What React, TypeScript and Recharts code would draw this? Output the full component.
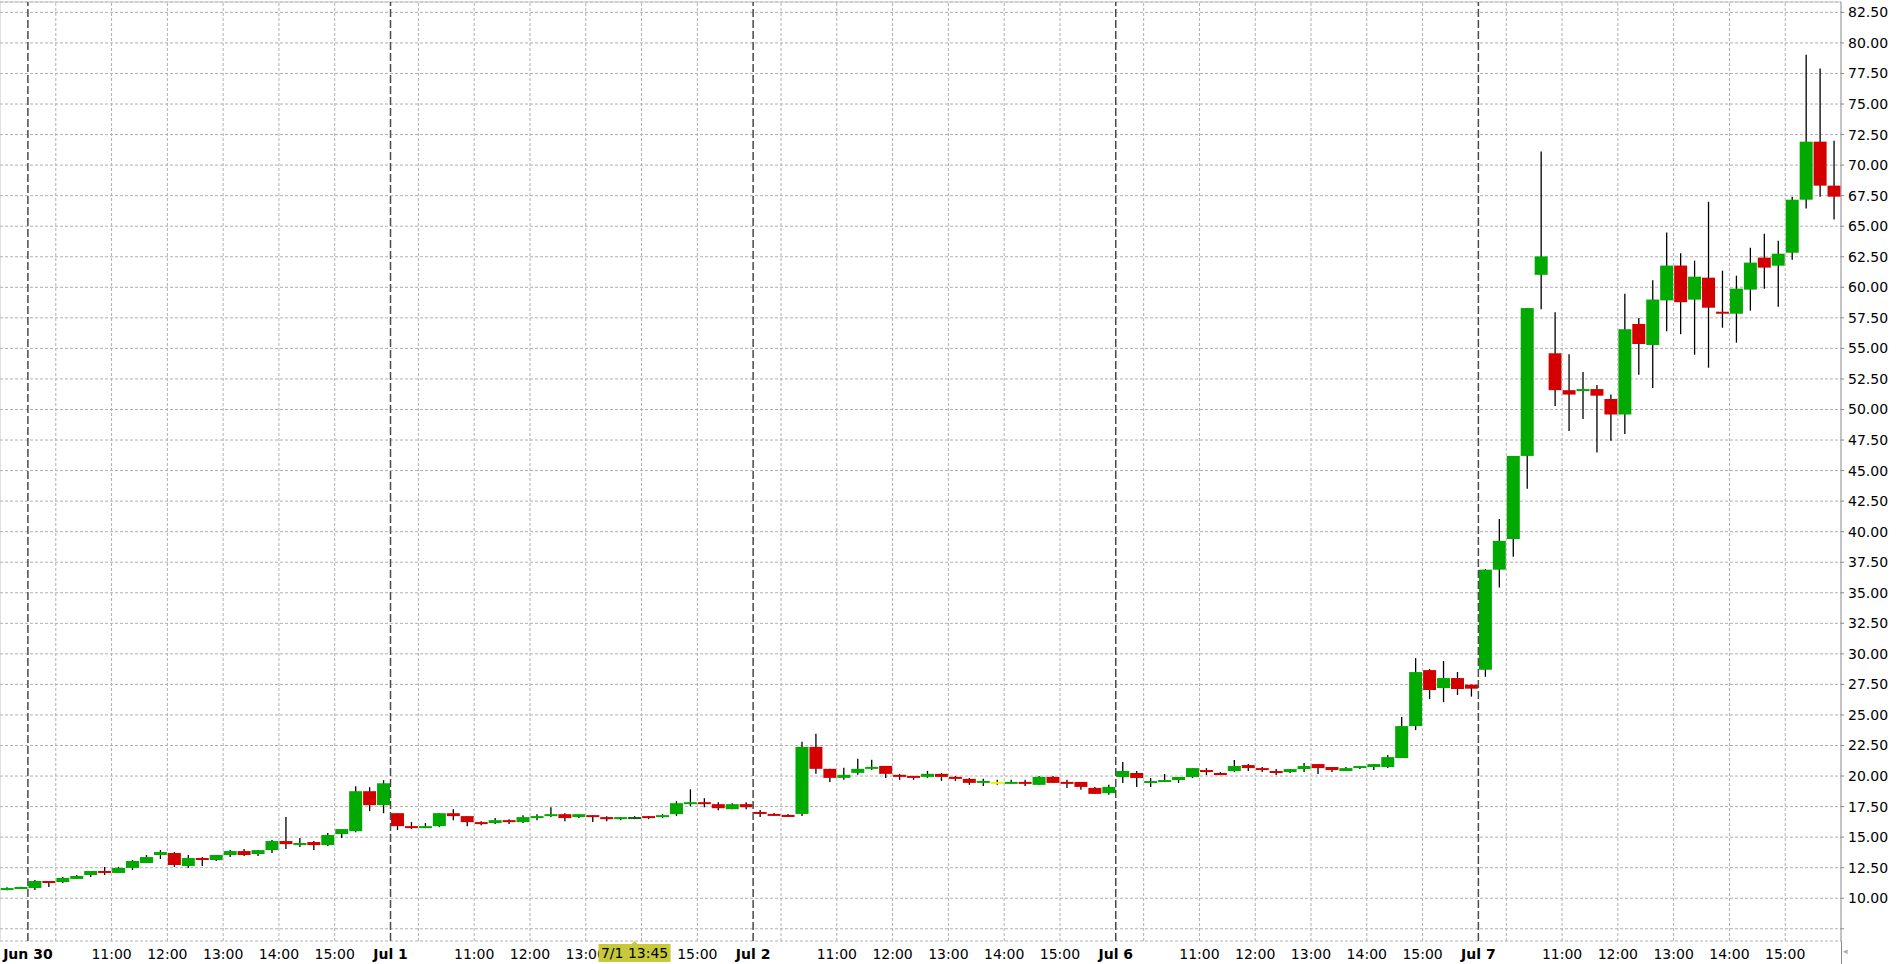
import { ComposedChart, Bar, XAxis, YAxis, CartesianGrid, ReferenceLine } from 'recharts';

// session layout: two late bars of Jun 29, then five full sessions of 15-min bars
const priorDay = 'Jun 29';
const priorTimes = ['15:30', '15:45'];
const tradingDays = ['Jun 30', 'Jul 1', 'Jul 2', 'Jul 6', 'Jul 7'];
const sessionTimes = [
  '09:30', '09:45', '10:00', '10:15', '10:30', '10:45', '11:00', '11:15', '11:30', '11:45',
  '12:00', '12:15', '12:30', '12:45', '13:00', '13:15', '13:30', '13:45', '14:00', '14:15',
  '14:30', '14:45', '15:00', '15:15', '15:30', '15:45',
];

const open = [
  10.68, 10.76,
  10.84, 11.41, 11.33, 11.58, 11.9, 12.23, 12.07, 12.48, 12.88, 13.54, 13.7, 12.64, 13.29, 13.13, 13.54, 13.86, 13.62, 13.94, 14.68, 14.35, 14.6, 14.35, 15.25, 15.49, 18.76, 17.62,
  16.96, 15.9, 15.74, 15.9, 16.96, 16.72, 16.23, 16.15, 16.39, 16.23, 16.56, 16.72, 16.88, 16.64, 16.8, 16.64, 16.47, 16.5, 16.72, 16.64, 16.88, 17.7, 17.86, 17.7, 17.29, 17.7,
  17.06, 16.9, 16.82, 16.9, 22.39, 20.59, 19.85, 20.26, 20.59, 20.83, 20.1, 20.01, 19.93, 20.18, 19.93, 19.77, 19.44, 19.36, 19.36, 19.52, 19.28, 19.93, 19.52, 19.52, 19.03, 18.6,
  19.92, 20.25, 19.43, 19.51, 19.67, 19.92, 20.49, 20.25, 20.41, 20.9, 20.65, 20.41, 20.33, 20.57, 20.98, 20.74, 20.41, 20.65, 20.74, 20.74, 21.47, 24.09, 28.67, 27.2, 28.02, 27.48,
  28.7, 36.89, 39.4, 46.2, 61.02, 54.6, 51.58, 51.5, 51.67, 50.86, 49.59, 57.0, 55.28, 58.93, 61.78, 58.99, 60.79, 58.0, 57.84, 59.81, 62.43, 61.77, 62.83, 67.17, 71.92, 68.32,
];

const high = [
  10.9, 10.95,
  11.5, 11.41, 11.74, 11.9, 12.23, 12.56, 12.56, 13.13, 13.54, 13.94, 13.78, 13.54, 13.37, 13.54, 13.94, 14.03, 13.94, 14.76, 16.64, 14.92, 14.68, 15.33, 15.66, 19.17, 19.09, 19.66,
  16.96, 16.23, 16.15, 16.96, 17.29, 16.72, 16.31, 16.56, 16.47, 16.8, 16.88, 17.45, 16.96, 16.88, 16.8, 16.72, 16.64, 16.72, 16.72, 16.88, 17.94, 18.92, 18.19, 17.86, 17.78, 17.86,
  17.23, 16.98, 16.9, 22.8, 23.46, 20.59, 20.67, 21.41, 21.33, 20.83, 20.18, 20.01, 20.42, 20.26, 20.01, 19.85, 19.77, 19.69, 19.69, 19.69, 20.01, 20.01, 19.69, 19.52, 19.11, 19.28,
  21.15, 20.41, 19.84, 20.16, 19.92, 20.65, 20.65, 20.33, 21.31, 20.98, 20.74, 20.57, 20.57, 21.06, 20.98, 20.74, 20.74, 20.82, 20.98, 21.72, 24.83, 29.65, 28.75, 29.41, 28.51, 27.48,
  36.95, 41.03, 46.2, 58.3, 71.12, 57.96, 54.52, 53.07, 52.0, 51.22, 59.48, 57.48, 60.58, 64.48, 62.78, 62.18, 67.0, 61.36, 60.95, 63.24, 64.39, 63.82, 67.42, 79.04, 77.9, 72.0,
];

const low = [
  10.66, 10.76,
  10.68, 10.92, 11.25, 11.58, 11.74, 11.9, 12.07, 12.31, 12.88, 13.21, 12.56, 12.48, 12.64, 13.05, 13.37, 13.45, 13.45, 13.7, 14.03, 14.19, 13.94, 14.27, 14.92, 15.41, 17.13, 16.96,
  15.58, 15.66, 15.74, 15.82, 16.39, 15.9, 15.98, 16.07, 16.07, 16.15, 16.39, 16.64, 16.31, 16.56, 16.23, 16.31, 16.39, 16.48, 16.47, 16.56, 16.72, 17.53, 17.45, 17.21, 17.29, 17.29,
  16.65, 16.74, 16.65, 16.74, 20.18, 19.52, 19.69, 20.1, 20.5, 19.85, 19.69, 19.69, 19.85, 19.6, 19.6, 19.28, 19.19, 19.28, 19.36, 19.19, 19.28, 19.44, 19.03, 18.87, 18.54, 18.46,
  19.43, 19.1, 19.1, 19.51, 19.43, 19.84, 20.08, 20.08, 20.33, 20.41, 20.33, 20.08, 20.25, 20.33, 20.16, 20.33, 20.41, 20.57, 20.49, 20.65, 21.47, 23.76, 26.3, 26.05, 26.63, 26.5,
  28.12, 35.44, 37.94, 43.51, 58.21, 50.28, 48.23, 49.22, 46.47, 47.44, 48.0, 52.85, 51.76, 56.4, 56.16, 54.48, 53.42, 56.69, 55.47, 58.09, 59.89, 58.41, 62.26, 66.44, 67.42, 65.54,
];

const close = [
  10.82, 10.92,
  11.41, 11.25, 11.66, 11.82, 12.23, 12.07, 12.48, 13.05, 13.37, 13.78, 12.72, 13.29, 13.13, 13.54, 13.86, 13.54, 13.94, 14.68, 14.43, 14.52, 14.35, 15.17, 15.66, 18.76, 17.62, 19.41,
  15.9, 15.74, 15.9, 16.96, 16.72, 16.23, 16.07, 16.39, 16.23, 16.64, 16.72, 16.88, 16.56, 16.88, 16.64, 16.47, 16.64, 16.62, 16.56, 16.8, 17.78, 17.86, 17.7, 17.37, 17.7, 17.45,
  16.9, 16.74, 16.65, 22.39, 20.59, 19.85, 20.1, 20.59, 20.75, 20.18, 19.93, 19.85, 20.18, 19.93, 19.77, 19.44, 19.6, 19.52, 19.52, 19.36, 19.93, 19.44, 19.36, 19.11, 18.54, 19.11,
  20.41, 19.84, 19.59, 19.67, 19.92, 20.65, 20.33, 20.08, 20.82, 20.65, 20.49, 20.25, 20.57, 20.82, 20.65, 20.49, 20.65, 20.82, 20.98, 21.55, 24.09, 28.51, 27.04, 28.02, 27.12, 27.15,
  36.89, 39.25, 46.2, 58.3, 62.53, 51.58, 51.22, 51.67, 51.13, 49.59, 56.57, 55.36, 59.0, 61.78, 58.78, 60.87, 58.33, 57.84, 59.89, 62.02, 61.61, 62.75, 67.17, 71.92, 68.32, 67.42,
];

const yTicks = [
  7.5, 10, 12.5, 15, 17.5, 20, 22.5, 25, 27.5, 30, 32.5, 35, 37.5, 40, 42.5, 45,
  47.5, 50, 52.5, 55, 57.5, 60, 62.5, 65, 67.5, 70, 72.5, 75, 77.5, 80, 82.5,
];

const cursorSlot = 'Jul 1 13:45';
const cursorText = '7/1 13:45';

const UP = '#00aa00';
const DOWN = '#d40000';
const FONT = '"DejaVu Sans", Verdana, sans-serif';
const CURSOR_FILL = '#c8c83c';
// bars drawn in a marker colour instead of up/down
const markedColors: Record<string, string> = {
  'Jul 1 13:45': '#0d5e0d',
  'Jul 2 13:45': '#f2f200',
};

const CHART_W = 1897;
const CHART_H = 964;
const X_AXIS_H = 23;
const Y_AXIS_W = 56;
const AXIS_Y = CHART_H - X_AXIS_H;

const slots = [
  ...priorTimes.map((t) => ({ day: priorDay, time: t })),
  ...tradingDays.flatMap((d) => sessionTimes.map((t) => ({ day: d, time: t }))),
];

const data = slots.map((s, i) => ({
  key: `${s.day} ${s.time}`,
  day: s.day,
  time: s.time,
  pos: i + 0.5,
  open: open[i],
  high: high[i],
  low: low[i],
  close: close[i],
}));

const slotCount = data.length;
const dayLines = data.map((d, i) => (d.time === '09:30' ? i : -1)).filter((i) => i >= 0);
const hourLines = data.map((d, i) => (d.time.endsWith(':00') ? i : -1)).filter((i) => i >= 0);

const cursorIndex = data.findIndex((d) => d.key === cursorSlot);
const cursorPos = cursorIndex + 0.5;

const tickLabels = new Map<number, { text: string; bold: boolean }>();
dayLines.forEach((i) => tickLabels.set(i, { text: data[i].day, bold: true }));
hourLines.forEach((i) => {
  if (data[i].time !== '10:00') tickLabels.set(i, { text: data[i].time, bold: false });
});
const timeTicks = [
  ...Array.from(tickLabels.keys())
    .filter((v) => Math.abs(v - cursorPos) > 2)
    .sort((a, b) => a - b),
  cursorPos,
];

function Candle(props: any) {
  const { x, y, width, height, payload } = props;
  if (!payload || width == null) return null;
  const { open: o, close: c, high: h, low: l, key } = payload;
  const top = Math.min(y, y + height);
  const span = Math.abs(height);
  const toY = (v: number) => (h - l > 0 ? top + ((h - v) / (h - l)) * span : top);
  const cx = x + width / 2;
  const yo = toY(o);
  const yc = toY(c);
  let bTop = Math.min(yo, yc);
  let bH = Math.abs(yo - yc);
  if (bH < 2) {
    bTop = (yo + yc) / 2 - 1;
    bH = 2;
  }
  const fill = markedColors[key] ?? (c >= o ? UP : DOWN);
  return (
    <g>
      <line x1={cx} x2={cx} y1={toY(h)} y2={toY(l)} stroke="#000" strokeWidth={1.3} />
      <rect x={x + 0.5} y={bTop} width={width - 1} height={bH} fill={fill} />
    </g>
  );
}

function TimeTick(props: any) {
  const { x, payload } = props;
  const v = payload.value;
  if (v === cursorPos) {
    const w = 72;
    const h = 18;
    return (
      <g>
        <path d={`M${x - 4},${AXIS_Y + 4} L${x},${AXIS_Y} L${x + 4},${AXIS_Y + 4} Z`} fill={CURSOR_FILL} />
        <rect x={x - w / 2} y={AXIS_Y + 3} width={w} height={h} fill={CURSOR_FILL} />
        <text x={x} y={AXIS_Y + 3 + h / 2} dy="0.36em" textAnchor="middle" fontSize={14} fontFamily={FONT} fill="#000">
          {cursorText}
        </text>
      </g>
    );
  }
  const info = tickLabels.get(v);
  if (!info) return null;
  return (
    <text
      x={x}
      y={AXIS_Y + 13}
      dy="0.36em"
      textAnchor="middle"
      fontSize={14}
      fontFamily={FONT}
      fontWeight={info.bold ? 700 : 400}
      fill="#000"
    >
      {info.text}
    </text>
  );
}

export default function App() {
  return (
    <div style={{ position: 'absolute', left: 0, top: 0, width: CHART_W, height: CHART_H, background: '#fff', overflow: 'hidden' }}>
      <ComposedChart
        width={CHART_W}
        height={CHART_H}
        data={data}
        margin={{ top: 2, right: 0, bottom: 0, left: 0 }}
        barCategoryGap={0}
        barGap={0}
      >
        <CartesianGrid vertical={false} stroke="#b0b0b0" strokeDasharray="3 2" />
        <XAxis
          xAxisId="time"
          dataKey="pos"
          type="number"
          domain={[0, slotCount]}
          allowDataOverflow
          ticks={timeTicks}
          interval={0}
          height={X_AXIS_H}
          tickSize={0}
          tickMargin={0}
          tickLine={false}
          axisLine={{ stroke: '#888888' }}
          tick={<TimeTick />}
        />
        <XAxis dataKey="key" hide />
        <YAxis
          orientation="right"
          type="number"
          domain={[6.5, 83.35]}
          allowDataOverflow
          ticks={yTicks}
          interval={0}
          width={Y_AXIS_W}
          tickSize={3}
          tickMargin={4}
          axisLine={{ stroke: '#888888' }}
          tickLine={{ stroke: '#888888' }}
          tick={{ fill: '#000', fontSize: 14, fontFamily: FONT }}
          tickFormatter={(v: number) => (v < 10 ? '' : v.toFixed(2))}
        />
        <ReferenceLine y={83.35} stroke="#c4c4c4" />
        <ReferenceLine xAxisId="time" x={0} stroke="#c4c4c4" />
        {hourLines.map((i) => (
          <ReferenceLine key={`h${i}`} xAxisId="time" x={i} stroke="#b0b0b0" strokeDasharray="3 2" />
        ))}
        {dayLines.map((i) => (
          <ReferenceLine key={`d${i}`} xAxisId="time" x={i} stroke="#4a4a4a" strokeWidth={1.5} strokeDasharray="8 3" />
        ))}
        <Bar dataKey={(d: any) => [d.low, d.high]} shape={<Candle />} isAnimationActive={false} />
      </ComposedChart>
      <div style={{ position: 'absolute', left: CHART_W - Y_AXIS_W, top: AXIS_Y, width: 1, height: X_AXIS_H, background: '#888888' }} />
      <span style={{ position: 'absolute', left: 1843, top: 946, fontSize: 9, color: '#aaaaaa', fontFamily: FONT }}>◂</span>
    </div>
  );
}
